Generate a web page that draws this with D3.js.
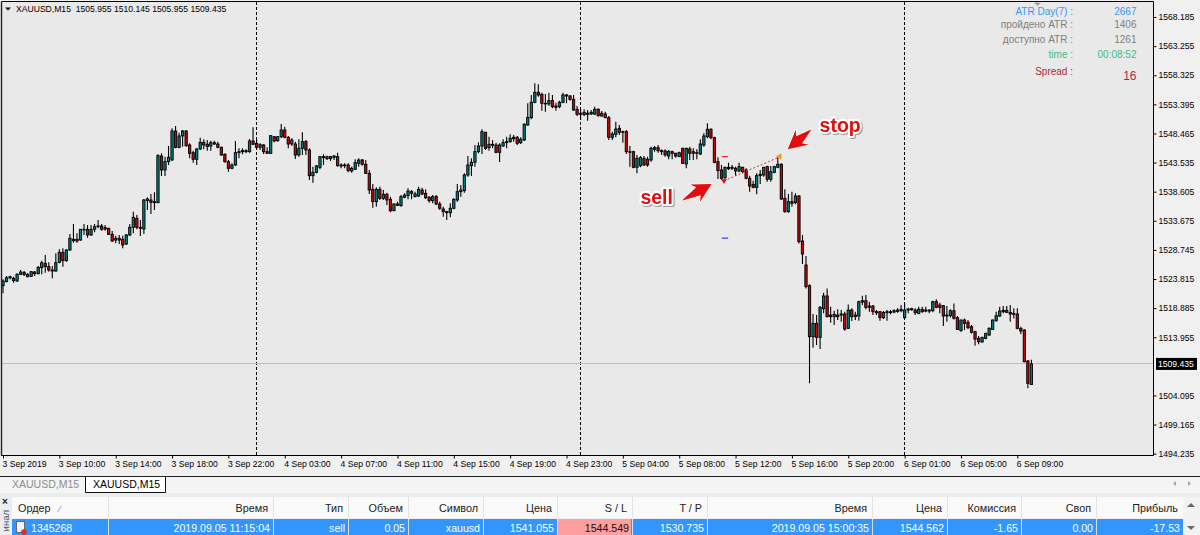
<!DOCTYPE html>
<html><head><meta charset="utf-8">
<script src="https://cdn.jsdelivr.net/npm/d3@7/dist/d3.min.js"></script>
<style>
html,body{margin:0;padding:0;background:#f0f0f0;overflow:hidden}
svg{display:block;font-family:"Liberation Sans",Arial,sans-serif}
</style></head><body><svg id="c" width="1200" height="535"></svg>
<script>
const opens=[
1522.69,1523.37,1524.21,1523.93,1523.48,1524.61,1524.95,1524.61,1524.27,1525.00,
1524.72,1525.74,1526.47,1525.91,1525.34,1525.17,1526.64,1528.33,1526.92,1528.73,
1530.54,1530.54,1530.42,1532.23,1532.23,1531.27,1532.23,1532.68,1532.79,1532.51,
1532.40,1531.38,1530.42,1530.71,1530.54,1529.75,1531.27,1532.57,1534.10,1532.57,
1532.29,1537.09,1537.20,1536.92,1536.75,1544.65,1542.28,1543.69,1543.97,1548.88,
1546.12,1548.04,1548.88,1546.51,1545.21,1544.09,1545.84,1546.96,1546.63,1546.34,
1546.91,1546.68,1546.12,1544.93,1543.69,1542.56,1543.13,1545.21,1545.38,1545.55,
1545.38,1547.19,1546.79,1546.12,1546.51,1545.38,1545.10,1547.92,1547.25,1547.92,
1549.05,1547.81,1546.68,1546.68,1544.82,1545.95,1547.08,1545.67,1541.32,1541.88,
1542.73,1544.54,1544.20,1544.54,1544.42,1544.54,1543.13,1543.01,1543.13,1542.11,
1542.39,1543.41,1543.97,1543.24,1541.71,1539.00,1536.92,1539.00,1537.48,1538.16,
1537.31,1535.39,1536.52,1536.24,1537.65,1537.93,1538.61,1537.76,1537.87,1538.89,
1538.33,1537.65,1537.08,1537.76,1536.52,1535.67,1535.22,1535.05,1535.79,1537.20,
1538.61,1538.78,1541.43,1543.01,1543.58,1545.38,1546.34,1548.66,1546.06,1546.63,
1546.51,1545.27,1546.34,1546.91,1547.08,1547.58,1547.81,1546.91,1547.36,1549.90,
1551.14,1553.74,1555.43,1555.09,1553.57,1553.46,1554.02,1553.12,1553.00,1553.74,
1554.98,1554.81,1554.25,1552.55,1551.88,1551.65,1551.88,1551.76,1551.76,1552.55,
1551.42,1551.76,1551.14,1547.81,1548.32,1549.33,1548.77,1548.77,1545.38,1545.38,
1542.73,1543.01,1544.25,1544.09,1543.97,1545.78,1546.06,1545.55,1545.50,1544.65,
1545.38,1545.10,1544.54,1545.95,1543.30,1545.84,1545.38,1545.21,1544.99,1546.51,
1547.92,1549.17,1547.75,1543.69,1542.28,1540.98,1542.50,1542.73,1542.56,1542.11,
1542.73,1542.28,1540.87,1539.85,1539.34,1541.32,1541.43,1542.84,1540.70,1541.88,
1542.73,1543.24,1537.48,1535.22,1536.92,1536.75,1537.87,1530.25,1526.19,1522.69,
1514.05,1516.31,1513.94,1518.79,1520.94,1517.72,1517.44,1517.72,1517.72,1517.89,
1515.46,1518.56,1517.44,1517.55,1519.92,1520.14,1519.24,1519.24,1518.28,1518.28,
1517.27,1518.11,1518.11,1518.22,1518.34,1518.45,1517.27,1518.56,1518.62,1518.56,
1518.00,1518.68,1518.39,1518.56,1518.45,1519.98,1519.41,1519.30,1517.72,1517.60,
1518.45,1517.27,1515.07,1516.87,1516.48,1515.74,1514.90,1513.77,1513.15,1513.77,
1514.33,1515.29,1516.76,1517.55,1518.28,1518.51,1518.17,1517.83,1517.89,1515.46,
1515.18,1509.93,1505.955];
const closes=[
1523.48,1524.03,1523.99,1523.54,1524.61,1525.00,1524.55,1524.21,1525.06,1524.72,
1525.79,1526.58,1525.91,1525.34,1525.17,1526.58,1528.33,1526.92,1528.73,1530.71,
1530.31,1530.25,1532.23,1532.12,1531.27,1532.23,1532.68,1532.79,1532.23,1532.29,
1531.38,1530.25,1530.71,1530.42,1529.58,1531.27,1532.57,1534.26,1532.57,1532.40,
1537.20,1537.37,1536.80,1536.75,1544.71,1542.28,1543.69,1544.42,1548.88,1546.12,
1548.04,1548.88,1546.40,1545.10,1544.09,1545.84,1546.96,1546.51,1546.23,1546.91,
1546.68,1546.12,1544.82,1543.69,1542.56,1543.13,1545.21,1545.38,1545.55,1545.38,
1547.19,1546.63,1546.12,1546.57,1545.38,1545.10,1548.09,1547.19,1547.92,1549.05,
1547.81,1546.68,1547.36,1544.82,1545.95,1547.08,1545.67,1541.32,1541.88,1542.96,
1544.54,1544.37,1544.54,1544.20,1544.65,1543.01,1542.96,1543.13,1542.17,1542.56,
1543.52,1543.97,1543.24,1541.71,1538.89,1536.92,1539.00,1537.48,1538.16,1537.20,
1535.39,1536.52,1536.29,1537.76,1538.04,1538.72,1538.33,1538.21,1539.00,1538.21,
1537.59,1537.08,1537.76,1536.52,1535.79,1535.22,1535.05,1535.79,1537.31,1538.61,
1538.89,1541.43,1543.13,1543.58,1545.38,1546.34,1548.77,1545.95,1546.63,1546.46,
1545.27,1546.51,1546.91,1547.08,1547.64,1547.81,1546.79,1547.47,1550.01,1551.20,
1553.74,1555.43,1554.98,1553.57,1553.46,1554.02,1553.00,1552.89,1553.74,1554.98,
1554.81,1554.25,1552.44,1551.71,1551.71,1552.04,1551.71,1552.04,1552.55,1551.48,
1551.88,1551.14,1547.81,1548.38,1549.22,1548.66,1548.66,1545.38,1545.27,1542.73,
1544.25,1544.37,1543.13,1543.13,1545.95,1546.06,1545.55,1545.38,1544.82,1545.44,
1545.10,1544.65,1545.21,1543.41,1545.95,1545.10,1545.10,1545.10,1546.68,1548.04,
1549.17,1547.75,1543.58,1542.17,1540.87,1542.73,1542.73,1542.56,1542.11,1542.84,
1542.00,1540.87,1539.57,1539.34,1541.32,1541.55,1542.73,1540.70,1542.00,1542.84,
1543.24,1537.37,1535.22,1536.92,1536.63,1537.88,1530.14,1528.05,1522.52,1514.05,
1516.31,1513.94,1519.02,1520.94,1517.44,1517.44,1517.83,1517.44,1517.89,1515.35,
1518.56,1517.44,1517.72,1519.98,1520.14,1519.02,1519.02,1518.28,1518.11,1517.27,
1518.17,1518.28,1518.28,1518.45,1518.56,1518.68,1518.56,1518.73,1518.79,1518.11,
1518.68,1518.28,1518.56,1518.39,1519.98,1519.02,1519.02,1517.55,1517.55,1518.45,
1517.15,1515.29,1516.87,1516.31,1515.57,1514.78,1513.65,1513.20,1513.94,1514.61,
1515.46,1516.87,1517.60,1518.39,1518.51,1518.17,1517.89,1518.00,1515.46,1515.01,
1509.81,1506.15,1509.435];
const highs=[
1523.76,1524.33,1524.38,1524.21,1524.78,1525.34,1525.17,1524.78,1525.17,1525.17,
1526.02,1526.92,1527.88,1526.64,1526.02,1528.17,1528.84,1529.01,1528.84,1531.44,
1533.13,1531.55,1532.29,1533.13,1532.96,1532.96,1533.13,1533.81,1533.13,1532.96,
1532.51,1531.95,1531.16,1531.27,1531.16,1531.44,1533.13,1535.22,1534.66,1533.81,
1537.37,1537.65,1538.21,1538.50,1544.93,1545.10,1544.54,1546.34,1549.34,1549.73,
1548.60,1549.05,1549.05,1546.79,1545.55,1545.95,1547.75,1547.47,1547.36,1547.25,
1547.25,1547.08,1546.23,1545.10,1543.97,1543.41,1547.19,1545.95,1545.95,1545.78,
1547.53,1549.50,1547.64,1546.79,1546.63,1546.12,1548.21,1548.04,1548.04,1550.07,
1549.62,1548.04,1547.64,1547.08,1547.47,1548.66,1547.36,1545.95,1542.84,1543.13,
1544.65,1544.93,1544.71,1544.65,1544.82,1545.21,1543.41,1543.41,1543.41,1542.84,
1544.09,1544.25,1544.14,1543.97,1542.28,1539.91,1539.34,1539.46,1538.89,1538.44,
1537.76,1536.63,1536.92,1538.04,1538.33,1539.17,1538.89,1538.61,1539.46,1539.29,
1539.00,1537.87,1538.04,1538.04,1536.92,1536.07,1535.39,1536.63,1537.48,1539.91,
1539.74,1541.71,1544.65,1544.25,1546.51,1546.96,1549.17,1548.77,1547.92,1547.36,
1546.91,1546.79,1547.47,1547.92,1548.32,1548.21,1548.04,1547.81,1550.18,1553.57,
1554.98,1556.96,1556.79,1555.37,1555.15,1555.37,1554.98,1553.68,1554.02,1555.37,
1555.15,1554.98,1554.98,1553.12,1552.55,1552.55,1552.44,1552.44,1553.00,1552.72,
1552.27,1552.16,1551.42,1548.77,1550.46,1549.90,1548.94,1549.05,1546.34,1545.55,
1544.82,1544.65,1544.65,1544.54,1546.23,1546.34,1546.51,1545.78,1545.78,1545.67,
1545.55,1545.21,1545.38,1546.06,1546.06,1546.23,1545.95,1545.78,1547.47,1548.49,
1550.18,1549.34,1547.92,1544.42,1543.13,1542.84,1543.52,1543.13,1542.84,1543.52,
1542.84,1542.56,1541.32,1540.47,1541.71,1542.28,1542.84,1543.01,1542.96,1543.01,
1544.54,1543.41,1539.00,1538.21,1538.61,1538.33,1538.04,1531.27,1527.71,1522.91,
1517.89,1517.72,1519.24,1521.50,1522.23,1519.13,1518.45,1518.68,1518.56,1518.28,
1519.52,1518.85,1518.28,1520.14,1520.99,1521.10,1519.98,1519.41,1518.56,1518.39,
1518.39,1518.56,1518.56,1518.68,1518.85,1519.41,1519.69,1518.96,1518.96,1518.85,
1519.13,1519.13,1519.13,1518.68,1520.14,1520.37,1519.81,1519.41,1519.24,1518.68,
1519.69,1517.55,1516.98,1517.15,1516.87,1516.02,1515.07,1514.16,1514.05,1514.73,
1515.63,1516.98,1518.28,1519.13,1519.24,1519.24,1519.41,1518.85,1518.85,1515.74,
1515.29,1510.10,1510.145];
const lows=[
1521.39,1523.25,1523.76,1523.20,1523.37,1524.50,1524.33,1524.10,1524.16,1524.33,
1524.61,1524.61,1524.89,1525.06,1523.93,1525.06,1526.47,1525.91,1526.75,1528.62,
1529.97,1529.97,1530.31,1531.27,1530.82,1531.16,1531.72,1532.40,1532.00,1532.00,
1531.27,1530.14,1529.86,1529.75,1529.01,1529.58,1531.10,1531.55,1532.23,1531.10,
1531.44,1535.50,1534.83,1535.50,1536.63,1541.26,1541.26,1543.13,1543.86,1545.95,
1545.95,1546.23,1546.23,1544.25,1543.52,1543.13,1545.67,1545.78,1545.55,1545.55,
1546.51,1545.95,1544.71,1543.52,1542.00,1542.39,1543.01,1544.25,1544.93,1545.10,
1545.21,1546.51,1545.67,1545.67,1544.99,1544.99,1544.99,1546.96,1547.08,1547.64,
1547.64,1545.95,1546.34,1544.14,1544.54,1544.82,1544.82,1540.59,1540.13,1541.71,
1542.39,1543.13,1543.97,1543.80,1543.97,1542.84,1542.56,1542.56,1541.88,1541.83,
1542.28,1542.84,1543.01,1541.60,1538.21,1535.90,1536.07,1537.20,1537.20,1536.35,
1535.11,1535.28,1536.18,1536.07,1537.48,1537.31,1537.31,1537.65,1537.76,1538.04,
1537.37,1536.75,1536.63,1536.35,1535.50,1534.38,1533.81,1534.26,1535.62,1536.92,
1537.76,1538.44,1541.15,1541.26,1542.84,1545.10,1544.99,1545.67,1545.55,1545.95,
1545.10,1543.63,1546.23,1545.95,1546.91,1547.08,1546.51,1546.68,1547.19,1549.79,
1550.86,1553.57,1554.70,1552.33,1552.16,1553.12,1552.72,1552.33,1552.72,1553.57,
1553.57,1554.02,1552.33,1551.42,1550.75,1551.42,1550.63,1551.59,1551.59,1551.31,
1551.31,1551.03,1547.36,1547.36,1547.81,1548.21,1546.91,1544.99,1542.84,1542.56,
1541.71,1542.73,1542.96,1542.84,1543.69,1545.38,1545.21,1544.82,1544.54,1544.09,
1544.09,1544.37,1544.54,1543.30,1542.56,1543.97,1543.97,1544.09,1544.82,1546.23,
1547.64,1547.47,1543.41,1540.75,1540.59,1540.59,1542.28,1542.28,1541.32,1541.88,
1541.71,1540.70,1538.61,1539.17,1538.16,1539.91,1541.15,1540.30,1540.30,1541.71,
1542.56,1537.20,1535.05,1535.05,1536.07,1536.46,1529.85,1526.35,1522.23,1506.15,
1512.19,1512.64,1511.96,1518.00,1517.32,1516.42,1516.02,1516.87,1516.59,1515.06,
1515.35,1516.70,1516.87,1516.76,1519.41,1518.68,1518.28,1517.72,1517.72,1516.76,
1517.04,1516.76,1517.83,1518.00,1518.11,1518.17,1517.15,1518.00,1518.45,1517.72,
1517.83,1518.11,1518.17,1518.00,1518.17,1518.85,1518.00,1515.85,1516.59,1517.32,
1516.98,1515.18,1514.90,1515.18,1515.35,1514.61,1512.52,1512.75,1513.03,1513.60,
1514.22,1515.18,1516.59,1517.44,1518.00,1518.11,1516.59,1517.15,1515.29,1514.50,
1509.70,1505.30,1505.955];

const priceTicks=[1568.185,1563.255,1558.325,1553.395,1548.465,1543.535,1538.605,1533.675,1528.745,1523.815,1518.885,1513.955,1504.095,1499.165,1494.235];
const timeLabels=["3 Sep 2019","3 Sep 10:00","3 Sep 14:00","3 Sep 18:00","3 Sep 22:00","4 Sep 03:00","4 Sep 07:00","4 Sep 11:00","4 Sep 15:00","4 Sep 19:00","4 Sep 23:00","5 Sep 04:00","5 Sep 08:00","5 Sep 12:00","5 Sep 16:00","5 Sep 20:00","6 Sep 01:00","6 Sep 05:00","6 Sep 09:00"];
const barsPerLabel=16;
const dayBreakBars=[72,164,256];
const lastPrice=1509.435;
const titleText="XAUUSD,M15  1505.955 1510.145 1505.955 1509.435";
const stopLoss=1544.549, takeProfit=1530.735;
const tradeBars=[204.7,220.8], tradePrices=[1540.45,1544.56];
const levelBars=[204.1,205.9];
const infoLabels=["ATR Day(7) :","пройдено ATR :","доступно ATR :","time :","Spread :"];
const infoValues=["2667","1406","1261","00:08:52","16"];
const tableHeaders=["Ордер","Время","Тип","Объем","Символ","Цена","S / L","T / P","Время","Цена","Комиссия","Своп","Прибыль"];
const tableRow=["1345268","2019.09.05 11:15:04","sell","0.05","xauusd","1541.055","1544.549","1530.735","2019.09.05 15:00:35","1544.562","-1.65","0.00","-17.53"];

const W=1200,H=535;
const svg=d3.select("#c");
const x=d3.scaleLinear().domain([0,292]).range([3,1031.4]);
const y=d3.scaleLinear().domain([1494.235,1568.185]).range([453.7,17]);
const L=2,T=2,R=1154,B=455.5;

// plot background
svg.append("rect").attr("x",0).attr("y",0).attr("width",W).attr("height",H).attr("fill","#f0f0f0");
svg.append("rect").attr("x",L).attr("y",T).attr("width",R-L).attr("height",B-T).attr("fill","#e9e9e9");

svg.append("defs").append("clipPath").attr("id","plot").append("rect").attr("x",L).attr("y",T).attr("width",R-L).attr("height",B-T);
const g=svg.append("g").attr("clip-path","url(#plot)");

// day separators
g.selectAll("line.day").data(dayBreakBars).join("line").attr("class","day")
 .attr("x1",d=>Math.floor(x(d))+.5).attr("x2",d=>Math.floor(x(d))+.5).attr("y1",T).attr("y2",B)
 .attr("stroke","#000").attr("stroke-width",1).attr("stroke-dasharray","3,2");

// last price line
g.append("line").attr("x1",L).attr("x2",R).attr("y1",Math.floor(y(lastPrice))+.5).attr("y2",Math.floor(y(lastPrice))+.5).attr("stroke","#bfbfbf").attr("stroke-width",1);

// candles
const bars=d3.range(opens.length);
g.selectAll("line.wick").data(bars).join("line").attr("class","wick")
 .attr("x1",d=>x(d)).attr("x2",d=>x(d)).attr("y1",d=>y(highs[d])).attr("y2",d=>y(lows[d]))
 .attr("stroke","#000").attr("stroke-width",1.1);
g.selectAll("rect.body").data(bars).join("rect").attr("class","body")
 .attr("x",d=>x(d)-1.15).attr("width",2.3)
 .attr("y",d=>y(Math.max(opens[d],closes[d])))
 .attr("height",d=>Math.max(.6,Math.abs(y(opens[d])-y(closes[d]))))
 .attr("fill",d=>closes[d]>=opens[d]?"#067a7a":"#c00808")
 .attr("stroke","#000").attr("stroke-width",.9);

// trade: levels, dotted path and markers
g.append("line").attr("x1",x(levelBars[0])).attr("x2",x(levelBars[1])).attr("y1",y(stopLoss)).attr("y2",y(stopLoss)).attr("stroke","#ff1010");
g.append("line").attr("x1",x(levelBars[0])).attr("x2",x(levelBars[1])).attr("y1",y(takeProfit)).attr("y2",y(takeProfit)).attr("stroke","#1010ff");
g.append("line").attr("x1",x(tradeBars[0])).attr("x2",x(tradeBars[1])).attr("y1",y(tradePrices[0])).attr("y2",y(tradePrices[1]))
 .attr("stroke","#ff2020").attr("stroke-dasharray","2,2");
g.append("path").attr("d",d3.symbol(d3.symbolTriangle,14)()).attr("transform",`translate(${x(tradeBars[0])},${y(tradePrices[0])}) rotate(180)`).attr("fill","#e01010");
g.append("path").attr("d",d3.symbol(d3.symbolTriangle,18)()).attr("transform",`translate(${x(tradeBars[1])-1},${y(tradePrices[1])}) rotate(-90)`).attr("fill","#e8a020");

// red annotation arrows
const arrows=[
 {tail:[192.7,1537.07],tip:[201.2,1539.9]},
 {tail:[229.6,1549.17],tip:[222.8,1545.78]}];
const notes=[{t:"sell",b:185.6,p:1536.5},{t:"stop",b:237.7,p:1548.7}];
function arrowPath(a){
 const x0=x(a.tail[0]),y0=y(a.tail[1]),x1=x(a.tip[0]),y1=y(a.tip[1]);
 const dx=x1-x0,dy=y1-y0,len=Math.hypot(dx,dy),ux=dx/len,uy=dy/len,nx=-uy,ny=ux;
 const hl=15,hw=10,sw=4.6;
 const P=(d,o)=>[x0+ux*d+nx*o,y0+uy*d+ny*o];
 return d3.line()([P(0,0),P(len-hl,sw),P(len-hl-4,hw),P(len,0),P(len-hl-4,-hw),P(len-hl,-sw)])+"Z";
}
svg.selectAll("path.arr").data(arrows).join("path").attr("class","arr").attr("d",arrowPath)
 .attr("fill","#e30d0d").attr("stroke","#fff").attr("stroke-width",1.5).attr("stroke-linejoin","round").attr("paint-order","stroke");
svg.selectAll("text.note").data(notes).join("text").attr("class","note")
 .attr("x",d=>x(d.b)).attr("y",d=>y(d.p)).attr("text-anchor","middle")
 .attr("font-size",19.5).attr("font-weight",700).attr("fill","#e30d0d")
 .attr("stroke","#fff").attr("stroke-width",4).attr("stroke-linejoin","round").attr("paint-order","stroke")
 .style("filter","drop-shadow(1px 1px 0.6px rgba(0,0,0,.35))").text(d=>d.t);

// frame
svg.append("path").attr("d",`M${L-.5},${T-.5}H${R-.5}V${B}H${L-.5}Z`).attr("fill","none").attr("stroke","#000").attr("stroke-width",1);
svg.append("line").attr("x1",L-.5).attr("x2",L-.5).attr("y1",T).attr("y2",B).attr("stroke","#222").attr("stroke-width",1.4);

// axes
const yAxis=d3.axisRight(y).tickValues(priceTicks).tickFormat(d3.format(".3f")).tickSize(3).tickPadding(2);
const ya=svg.append("g").attr("transform",`translate(${R-.5},0)`).call(yAxis);
ya.select(".domain").remove();
ya.selectAll("text").attr("font-family",'"Liberation Sans",Arial,sans-serif').attr("font-size",8.6).attr("fill","#000");
const xt=timeLabels.map((_,i)=>i*barsPerLabel);
const xAxis=d3.axisBottom(x).tickValues(xt).tickFormat((d,i)=>timeLabels[i]).tickSize(3).tickPadding(2);
const xa=svg.append("g").attr("transform",`translate(0,${B})`).call(xAxis);
xa.select(".domain").remove();
xa.selectAll("text").attr("font-family",'"Liberation Sans",Arial,sans-serif').attr("font-size",8.6).attr("fill","#000").attr("text-anchor","start").attr("dx",-1);

// last price tag
svg.append("rect").attr("x",R+2).attr("y",y(lastPrice)-6).attr("width",41).attr("height",12).attr("fill","#000");
svg.append("text").attr("x",R+4).attr("y",y(lastPrice)+3.2).attr("font-size",8.6).attr("fill","#fff").text(d3.format(".3f")(lastPrice));

// title
svg.append("path").attr("d","M5,7.5H11L8,10.5Z").attr("fill","#000");
svg.append("text").attr("x",16).attr("y",12).attr("font-size",8.6).attr("fill","#000").style("white-space","pre").text(titleText);
svg.append("path").attr("d","M1034,2.5H1041L1037.5,6Z").attr("fill","#a0a0a0");

// info panel
const infoColors=["#3a96f5","#808080","#808080","#45bb78","#b0283a"];
const infoY=[15,28,43,58,75];
const valY=[15,28,43,58,80];
svg.selectAll("text.il").data(infoLabels).join("text").attr("class","il")
 .attr("x",1073).attr("y",(d,i)=>infoY[i]).attr("text-anchor","end").attr("font-size",10)
 .attr("fill",(d,i)=>infoColors[i]).text(d=>d);
svg.selectAll("text.iv").data(infoValues).join("text").attr("class","iv")
 .attr("x",1136.5).attr("y",(d,i)=>valY[i]).attr("text-anchor","end").attr("font-size",(d,i)=>i==4?12:10)
 .attr("fill",(d,i)=>infoColors[i]).text(d=>d);

// tabs
svg.append("line").attr("x1",0).attr("x2",W).attr("y1",476.5).attr("y2",476.5).attr("stroke","#222");
svg.append("rect").attr("x",0).attr("y",477).attr("width",W).attr("height",16).attr("fill","#f4f4f4");
svg.append("rect").attr("x",0).attr("y",493).attr("width",W).attr("height",42).attr("fill","#ededed");
svg.append("path").attr("d","M85.5,477V492.5H165.5V477").attr("fill","#fff").attr("stroke","#111");
svg.append("text").attr("x",12).attr("y",488).attr("font-size",10.5).attr("fill","#8c8c8c").text("XAUUSD,M15");
svg.append("text").attr("x",93).attr("y",488).attr("font-size",10.5).attr("fill","#000").text("XAUUSD,M15");
svg.append("path").attr("d","M1173,483.5L1176,481V486Z").attr("fill","#a8a8a8");
svg.append("path").attr("d","M1191,483.5L1188,481V486Z").attr("fill","#a8a8a8");

// terminal side strip
svg.append("text").attr("x",5).attr("y",505).attr("text-anchor","middle").attr("font-size",10).attr("font-weight",700).attr("fill","#222").text("×");
svg.append("text").attr("transform","translate(8.5,510) rotate(-90)").attr("text-anchor","end").attr("font-size",9.5).attr("fill","#456").text("инал");

// table
const colEdges=[12,108,273,348,408,483,557,632,707,872,947,1021,1096,1183];
const hdrTop=497,hdrBot=518,rowTop=519;
svg.append("rect").attr("x",12).attr("y",hdrTop).attr("width",1171).attr("height",hdrBot-hdrTop).attr("fill","#fafafa");
svg.append("rect").attr("x",12).attr("y",rowTop).attr("width",1171).attr("height",H-rowTop).attr("fill","#3395ff");
svg.append("rect").attr("x",colEdges[6]+1).attr("y",rowTop).attr("width",colEdges[7]-colEdges[6]-2).attr("height",H-rowTop).attr("fill","#ff9e9e");
svg.selectAll("line.sep").data(colEdges.slice(1)).join("line").attr("class","sep")
 .attr("x1",d=>d+.5).attr("x2",d=>d+.5).attr("y1",hdrTop).attr("y2",hdrBot).attr("stroke","#e2e2e2");
svg.selectAll("line.sep2").data(colEdges.slice(1,-1)).join("line").attr("class","sep2")
 .attr("x1",d=>d+.5).attr("x2",d=>d+.5).attr("y1",rowTop).attr("y2",H).attr("stroke","#cfe4fb");
svg.selectAll("text.hd").data(tableHeaders).join("text").attr("class","hd")
 .attr("x",(d,i)=>i==0?18:colEdges[i+1]-5).attr("y",512).attr("text-anchor",(d,i)=>i==0?"start":"end")
 .attr("font-size",10.8).attr("fill","#222").text(d=>d);
svg.selectAll("text.rw").data(tableRow).join("text").attr("class","rw")
 .attr("x",(d,i)=>i==0?31:colEdges[i+1]-3).attr("y",531.5).attr("text-anchor",(d,i)=>i==0?"start":"end")
 .attr("font-size",10.6).attr("fill",(d,i)=>i==6?"#111":"#fff").text(d=>d);
svg.append("text").attr("x",59).attr("y",512).attr("font-size",9).attr("fill","#888").text("⁄");
// order icon
svg.append("rect").attr("x",16.5).attr("y",521.5).attr("width",8).attr("height",11).attr("fill","#f4f4f4").attr("stroke","#667");
svg.append("circle").attr("cx",24).attr("cy",532).attr("r",2.8).attr("fill","#e03010");
// scrollbar
svg.append("rect").attr("x",1183).attr("y",497).attr("width",17).attr("height",38).attr("fill","#f2f2f2");
svg.append("path").attr("d","M1187,507L1191,503L1195,507Z").attr("fill","#666");
svg.append("path").attr("d","M1187,526L1191,530L1195,526Z").attr("fill","#666");
</script></body></html>
